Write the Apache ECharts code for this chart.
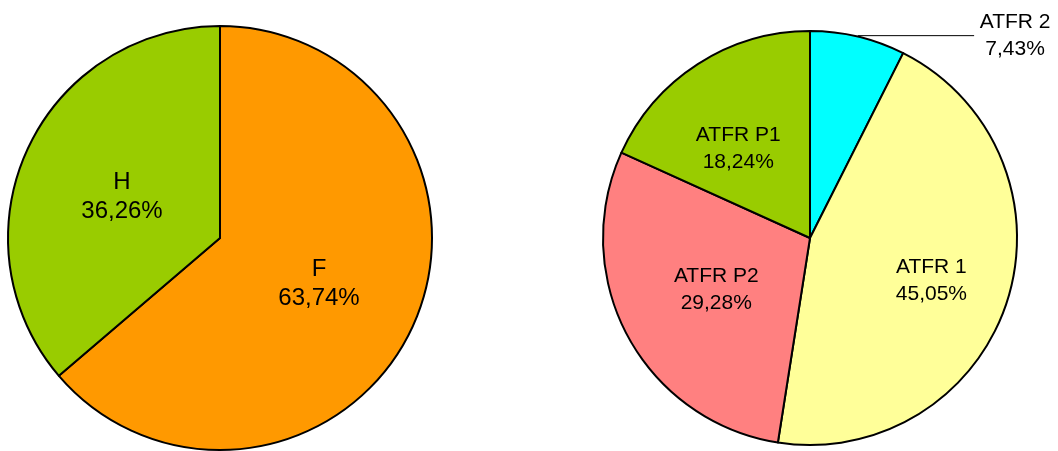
<!DOCTYPE html>
<html>
<head>
<meta charset="utf-8">
<script src="https://cdn.jsdelivr.net/npm/echarts@6/dist/echarts.min.js"></script>
<style>
html,body{margin:0;padding:0;background:#fff;}
#c{width:1058px;height:451px;}
</style>
</head>
<body>
<div id="c"></div>
<script>
// Left pie
const leftCategories = ['F', 'H'];
const leftValues = [63.74, 36.26];
const leftColors = ['#FF9900', '#99CC00'];

// Right pie
const rightCategories = ['ATFR 2', 'ATFR 1', 'ATFR P2', 'ATFR P1'];
const rightValues = [7.43, 45.05, 29.28, 18.24];
const rightColors = ['#00FFFF', '#FFFF99', '#FF8080', '#99CC00'];

function pct(v) { return v.toFixed(2).replace('.', ',') + '%'; }

const chart = echarts.init(document.getElementById('c'), null, {renderer: 'canvas'});

const leftLabelOffsets = {'F': [0, 0], 'H': [1, 4]};
const leftData = leftCategories.map((n, i) => ({
  name: n, value: leftValues[i], itemStyle: {color: leftColors[i]},
  label: {offset: leftLabelOffsets[n]}
}));

const rightLabelOffsets = {'ATFR 1': [20, 10], 'ATFR P1': [-14, 0], 'ATFR P2': [0, 1]};
const rightData = rightCategories.map((n, i) => {
  const d = {name: n, value: rightValues[i], itemStyle: {color: rightColors[i]}};
  if (n === 'ATFR 2') {
    d.label = {
      position: 'outside',
      formatter: p => '{a|' + p.name + '}\n{a|' + pct(p.value) + '}',
      distanceToLabelLine: 4,
      rich: {a: {width: 74, align: 'center', fontSize: 21, lineHeight: 27, color: '#000', fontFamily: '"Liberation Sans", Arial, sans-serif'}}
    };
    d.labelLine = {show: true, length: 1, length2: 116, lineStyle: {color: '#000', width: 1}};
  } else {
    d.label = {offset: rightLabelOffsets[n]};
  }
  return d;
});

chart.setOption({
  animation: false,
  backgroundColor: '#fff',
  series: [
    {
      type: 'pie',
      center: [220, 238],
      radius: 212,
      startAngle: 90,
      clockwise: true,
      avoidLabelOverlap: false,
      silent: true,
      data: leftData,
      itemStyle: {borderColor: '#000', borderWidth: 2},
      label: {
        show: true,
        position: 'inside',
        formatter: p => p.name + '\n' + pct(p.value),
        fontSize: 24,
        lineHeight: 29,
        color: '#000',
        fontFamily: '"Liberation Sans", Arial, sans-serif',
        align: 'center'
      },
      labelLine: {show: false}
    },
    {
      type: 'pie',
      center: [810, 238],
      radius: 207,
      startAngle: 90,
      clockwise: true,
      avoidLabelOverlap: false,
      silent: true,
      data: rightData,
      itemStyle: {borderColor: '#000', borderWidth: 2},
      label: {
        show: true,
        position: 'inside',
        formatter: p => p.name + '\n' + pct(p.value),
        fontSize: 21,
        lineHeight: 27,
        color: '#000',
        fontFamily: '"Liberation Sans", Arial, sans-serif',
        align: 'center'
      },
      labelLine: {show: false}
    }
  ]
});
</script>
</body>
</html>
